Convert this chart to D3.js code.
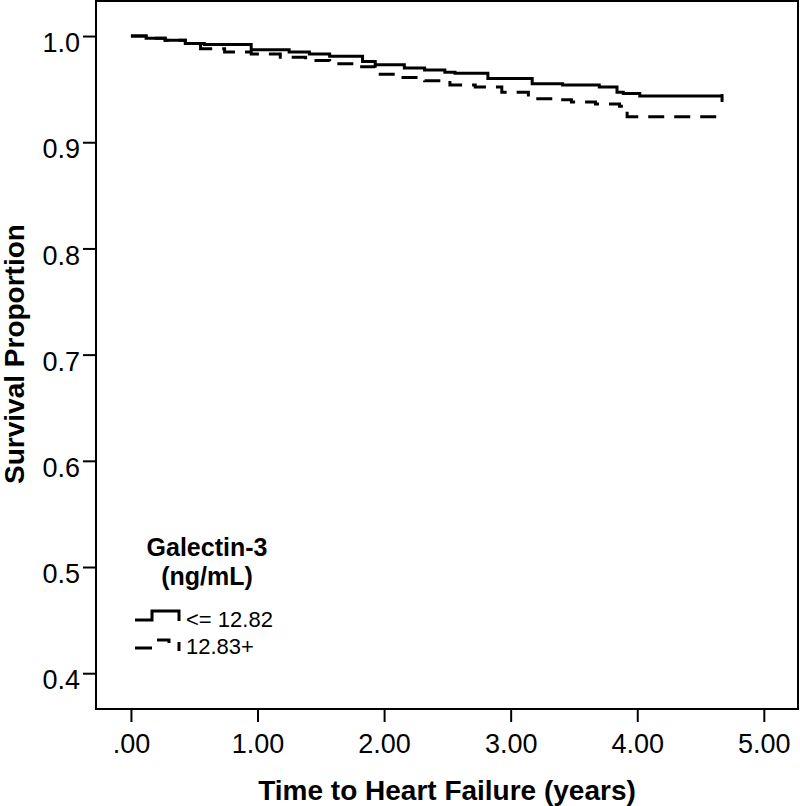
<!DOCTYPE html>
<html>
<head>
  <script src="https://d3js.org/d3.v7.min.js"></script>
  <style>
    body { margin: 0; background: #fff; }
    text { font-family: "Liberation Sans", Arial, sans-serif; fill: #000; }
    .curve { fill: none; stroke: #000; stroke-width: 3; }
  </style>
</head>
<body>
  <div id="chart"></div>
  <script>
    // Kaplan-Meier steps
    var lowTimes = [0, 0.12, 0.27, 0.43, 0.58, 0.95, 1.25, 1.41, 1.57, 1.83, 1.93, 2.16, 2.32, 2.48, 2.56, 2.82, 3.17, 3.41, 3.70, 3.84, 3.89, 4.02, 4.67];
    var lowSurv  = [1.0, 0.998, 0.996, 0.993, 0.992, 0.987, 0.985, 0.983, 0.981, 0.976, 0.973, 0.970, 0.968, 0.966, 0.965, 0.960, 0.955, 0.954, 0.952, 0.947, 0.946, 0.9435, 0.9435];
    var highTimes = [0, 0.12, 0.27, 0.43, 0.55, 0.74, 0.95, 1.18, 1.38, 1.57, 1.81, 1.93, 2.13, 2.32, 2.52, 2.72, 2.93, 3.14, 3.33, 3.48, 3.67, 3.86, 3.92, 4.63];
    var highSurv  = [1.0, 0.998, 0.996, 0.993, 0.988, 0.985, 0.983, 0.980, 0.977, 0.974, 0.971, 0.964, 0.961, 0.958, 0.954, 0.952, 0.947, 0.941, 0.940, 0.938, 0.936, 0.934, 0.924, 0.924];
    var xTicks = [0, 1, 2, 3, 4, 5];
    var yTicks = [0.4, 0.5, 0.6, 0.7, 0.8, 0.9, 1.0];
    var legendTitle = ["Galectin-3", "(ng/mL)"];
    var groupLabels = ["<= 12.82", "12.83+"];

    var w = 800, h = 806;
    var svg = d3.select("#chart").append("svg").attr("width", w).attr("height", h);

    var x = d3.scaleLinear().domain([-0.276, 5.27]).range([96, 798]);
    var y = d3.scaleLinear().domain([0.3663, 1.033]).range([709, 1]);

    // frame
    svg.append("rect")
      .attr("x", 96).attr("y", 1).attr("width", 702).attr("height", 708)
      .attr("fill", "none").attr("stroke", "#000").attr("stroke-width", 2);

    var xAxis = svg.append("g").attr("transform", "translate(0,709)")
      .call(d3.axisBottom(x).tickValues(xTicks).tickSize(13).tickPadding(12)
        .tickFormat(d => d === 0 ? ".00" : d3.format(".2f")(d)));
    xAxis.select(".domain").remove();
    xAxis.selectAll("line").attr("stroke", "#000").attr("stroke-width", 2);
    xAxis.selectAll("text").style("font-size", "27px").attr("font-family", null);

    var yAxis = svg.append("g").attr("transform", "translate(96,0)")
      .call(d3.axisLeft(y).tickValues(yTicks).tickSize(13).tickPadding(3).tickFormat(d3.format(".1f")));
    yAxis.select(".domain").remove();
    yAxis.selectAll("line").attr("stroke", "#000").attr("stroke-width", 2);
    yAxis.selectAll("text").style("font-size", "27px").attr("font-family", null).attr("dy", "0.58em");

    svg.append("text").attr("x", 447).attr("y", 800).attr("text-anchor", "middle")
      .style("font-size", "28px").style("font-weight", "bold").text("Time to Heart Failure (years)");
    svg.append("text").attr("transform", "translate(24,354) rotate(-90)").attr("text-anchor", "middle")
      .style("font-size", "28px").style("font-weight", "bold").text("Survival Proportion");

    var line = d3.line().x(d => x(d[0])).y(d => y(d[1])).curve(d3.curveStepAfter);
    var low = lowTimes.map((t, i) => [t, lowSurv[i]]);
    var high = highTimes.map((t, i) => [t, highSurv[i]]);

    svg.append("path").datum(high).attr("class", "curve").attr("d", line).attr("stroke-dasharray", "16,10");
    svg.append("path").datum(low).attr("class", "curve").attr("d", line);

    // censoring tick at end of solid curve
    var lastLow = low[low.length - 1];
    svg.append("line")
      .attr("x1", x(lastLow[0])).attr("x2", x(lastLow[0]))
      .attr("y1", y(lastLow[1]) - 2).attr("y2", y(lastLow[1]) + 6)
      .attr("stroke", "#000").attr("stroke-width", 3);

    // legend
    var lg = svg.append("g");
    lg.selectAll(".lgtitle").data(legendTitle).enter().append("text")
      .attr("class", "lgtitle")
      .attr("x", 207).attr("y", (d, i) => 556 + i * 29)
      .attr("text-anchor", "middle")
      .style("font-size", "25px").style("font-weight", "bold").text(d => d);

    lg.append("path").attr("d", "M135,620 H152 V611 H179 V621")
      .attr("fill", "none").attr("stroke", "#000").attr("stroke-width", 3);
    lg.append("path").attr("d", "M135,648 H152 M157,640 H169 V643 M179,642 V651")
      .attr("fill", "none").attr("stroke", "#000").attr("stroke-width", 3);

    lg.selectAll(".lgtext").data(groupLabels).enter().append("text")
      .attr("class", "lgtext")
      .attr("x", 186).attr("y", (d, i) => 627 + i * 27)
      .style("font-size", "22px").text(d => d);
  </script>
</body>
</html>
